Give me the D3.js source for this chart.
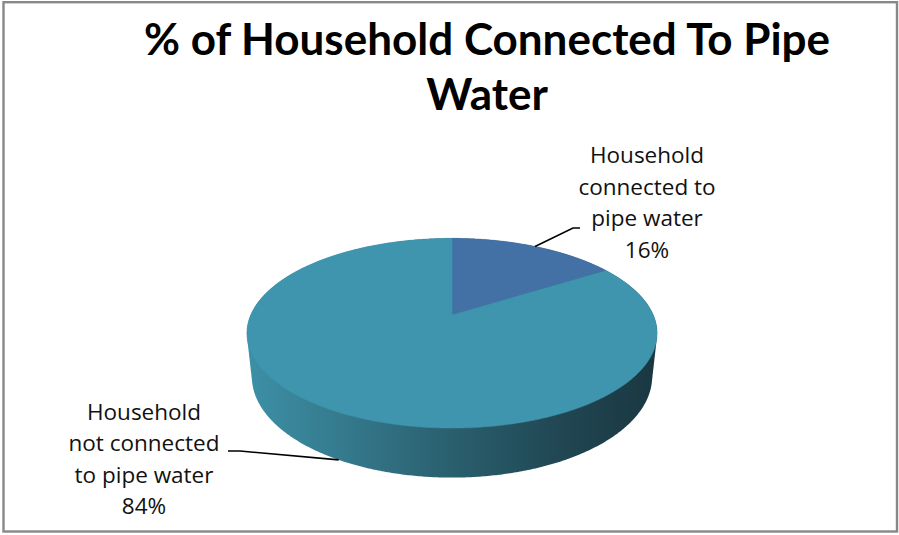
<!DOCTYPE html>
<html><head><meta charset="utf-8">
<script src="https://cdn.jsdelivr.net/npm/d3@7"></script>
<style>body{margin:0;background:#fff}svg{display:block}</style>
</head><body><svg id="c" width="899" height="535"></svg>
<script>
// ---- data ----
const categories = ["Household connected to pipe water", "Household not connected to pipe water"];
const values = [16, 84];
const percentLabels = ["16%", "84%"];
const labelLines = [["Household", "connected to", "pipe water"], ["Household", "not connected", "to pipe water"]];
const titleLines = ["% of Household Connected To Pipe", "Water"];
const colors = ["#4371A5", "#3F95AD"];

// ---- layout ----
const W = 899, H = 535;
const svg = d3.select("#c");
svg.append("rect").attr("width", W).attr("height", H).attr("fill", "#fff");

// 3D perspective projection of a flat cylinder
const cx = 452, cy = 315, f = 936, D = 4.65, phi = 27 * Math.PI / 180, depthH = 0.245;
const s = Math.sin(phi), c = Math.cos(phi);
function proj(a, Y) {
  const u = Math.sin(a), v = -Math.cos(a);
  const dep = D - Y * s - v * c;
  return [cx + f * u / dep, cy - f * (Y * c - v * s) / dep];
}
const pie = d3.pie().sort(null).startAngle(0).endAngle(2 * Math.PI);
const arcs = pie(values);

// gradient for side wall
const defs = svg.append("defs");
const grad = defs.append("linearGradient").attr("id", "wall")
  .attr("gradientUnits", "userSpaceOnUse").attr("x1", 247).attr("x2", 657).attr("y1", 0).attr("y2", 0);
[[0, "#3D90A6"], [0.25, "#34788B"], [0.5, "#2A5F6E"], [0.75, "#214854"], [1, "#1A3741"]]
  .forEach(([o, col]) => grad.append("stop").attr("offset", o).attr("stop-color", col));

// side wall = hull of top and bottom rims
const step = Math.PI / 360;
const allPts = [];
for (let a = 0; a < 2 * Math.PI; a += step) { allPts.push(proj(a, 0)); allPts.push(proj(a, -depthH)); }
const hull = d3.polygonHull(allPts);
svg.append("path").attr("d", "M" + hull.join("L") + "Z").attr("fill", "url(#wall)");

// top faces
const line = d3.line();
arcs.forEach((d, i) => {
  const pts = [[cx, cy]];
  const n = Math.max(2, Math.ceil((d.endAngle - d.startAngle) / step));
  for (let j = 0; j <= n; j++) pts.push(proj(d.startAngle + (d.endAngle - d.startAngle) * j / n, 0));
  svg.append("path").attr("d", line(pts) + "Z").attr("fill", colors[i]).attr("stroke", colors[i]).attr("stroke-width", 0.5);
});

// title
const title = svg.append("text").attr("text-anchor", "middle")
  .attr("font-family", "Lato, 'Open Sans', sans-serif").attr("font-weight", "bold").attr("font-size", 44).attr("fill", "#000");
titleLines.forEach((t, i) => title.append("tspan").attr("x", 487).attr("y", 55 + i * 55).text(t));

// data labels with leader lines
const labelCfg = [
  { x: 647, y: 163, elbow: [[573, 228], [580, 228]], Y: 0 },
  { x: 144, y: 419.5, elbow: [[240, 451], [228, 451]], Y: -depthH }
];
arcs.forEach((d, i) => {
  const cfg = labelCfg[i];
  const mid = (d.startAngle + d.endAngle) / 2;
  const anchor = proj(mid, cfg.Y);
  svg.append("path").attr("d", line([anchor, ...cfg.elbow])).attr("fill", "none").attr("stroke", "#000").attr("stroke-width", 1.6);
  const t = svg.append("text").attr("text-anchor", "middle")
    .attr("font-family", "'Open Sans', sans-serif").attr("font-size", 22.5).attr("fill", "#111");
  [...labelLines[i], percentLabels[i]].forEach((l, k) => t.append("tspan").attr("x", cfg.x).attr("y", cfg.y + k * 31.6).text(l));
});

// chart border
svg.append("rect").attr("x", 3.5).attr("y", 2.2).attr("width", 893.5).attr("height", 529.3)
  .attr("fill", "none").attr("stroke", "#888").attr("stroke-width", 2.4);
</script></body></html>
